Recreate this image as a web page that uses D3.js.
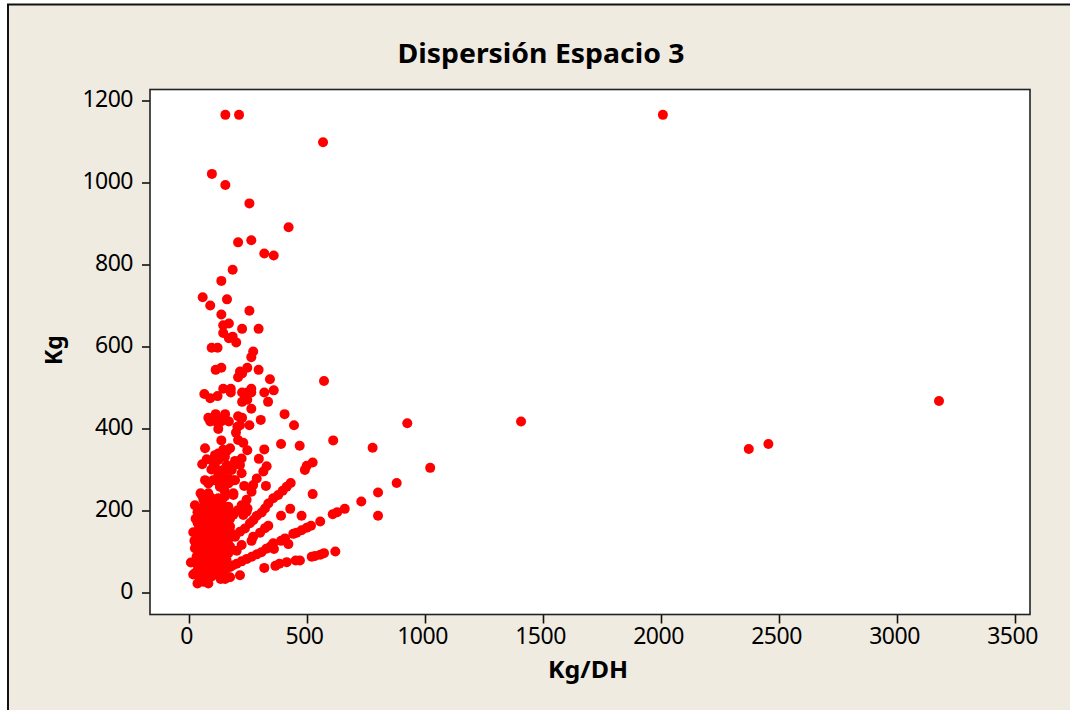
<!DOCTYPE html>
<html><head><meta charset="utf-8">
<script src="https://cdn.jsdelivr.net/npm/d3@7"></script>
<style>html,body{margin:0;padding:0;background:#fff}svg{display:block}text{fill:#000}</style>
</head><body><svg id="c" width="1070" height="710"></svg>
<script>
const chartTitle = "Dispersión Espacio 3";
const xLabel = "Kg/DH";
const yLabel = "Kg";
const xTicks = [0,500,1000,1500,2000,2500,3000,3500];
const yTicks = [0,200,400,600,800,1000,1200];
// [Kg/DH, Kg]
const outlierPoints = [[2008,1165],[3178,467],[2455,362],[2372,350],[1407,417],[1022,304],[925,413],[880,267],[801,244],[801,187],[778,353],[730,222],[660,204],[628,196],[609,191],[620,100],[611,371],[572,516],[568,1098]];
const upperPoints = [[154,1165],[212,1165],[97,1021],[154,994],[256,949],[422,891],[208,854],[264,859],[319,827],[359,822],[185,787],[137,760],[58,720],[161,715],[90,700],[137,678],[256,687],[145,652],[169,656],[225,643],[295,643],[145,633],[169,620],[185,624],[200,610],[96,597],[121,597],[272,588],[264,574],[137,548],[113,543],[216,539],[247,548],[295,543],[225,534],[208,525],[343,520],[145,497],[177,497],[177,488],[65,484],[90,474],[121,479],[225,488],[247,488],[264,497],[264,488],[319,488],[359,493],[225,465],[247,470],[335,465],[264,448],[82,426],[113,435],[153,435],[90,417],[124,424],[169,417],[208,430],[225,426],[304,421],[405,435],[445,408],[124,399],[114,417],[136,417],[216,408],[256,408],[205,404],[199,390]];
const midPoints = [[137,371],[208,372],[230,365],[247,347],[319,349],[390,362],[469,358],[524,317],[499,309],[491,299],[524,240],[429,204],[390,187],[477,187],[296,326],[68,352],[75,325],[56,313],[124,339],[145,348],[174,352],[124,323],[110,307],[152,331],[195,321],[223,327],[216,311],[223,291],[152,299],[181,299],[68,274],[110,274],[138,282],[188,274],[167,266],[131,258],[152,246],[234,260],[49,242],[82,242],[188,242],[25,213],[61,226],[110,226],[138,221],[89,213],[167,209],[110,335],[160,345],[100,320],[95,300],[82,266],[103,274],[124,290],[145,299],[160,311],[181,303],[195,274],[131,262],[145,254],[167,278],[152,274],[54,238],[75,238],[96,230],[124,230],[152,234],[188,238]];
const rayPoints = [[431,267],[414,258],[397,248],[378,238],[357,230],[336,217],[322,205],[308,195],[287,187],[273,177],[258,169],[237,156],[216,148],[195,136],[329,308],[315,295],[287,278],[272,262],[265,246],[244,226],[223,213],[205,200],[188,190],[174,180],[326,260],[248,205],[244,197],[230,189],[336,163],[322,157],[301,146],[272,136],[265,126],[223,116],[202,102],[556,173],[517,163],[499,158],[477,152],[456,146],[442,143],[421,118],[407,132],[390,126],[357,120],[360,106],[345,112],[328,107],[307,98],[287,93],[266,87],[245,82],[223,76],[202,70],[185,66],[174,62],[572,96],[556,92],[534,89],[520,87],[470,78],[452,78],[414,74],[383,70],[366,65],[319,60],[216,42],[174,37],[153,33],[134,33]];
const clusterPoints = [[8,73],[18,44],[25,47],[36,22],[82,22],[46,35],[60,39],[96,39],[75,47],[18,147],[23,126],[37,169],[25,108],[32,87],[39,70],[53,55],[68,62],[89,55],[110,47],[124,47],[138,55],[152,47],[39,104],[53,87],[68,79],[89,71],[110,63],[131,71],[152,71],[46,128],[60,112],[75,95],[96,87],[117,79],[138,87],[159,79],[53,152],[68,136],[82,120],[103,104],[124,95],[145,104],[166,95],[60,169],[75,161],[89,144],[110,128],[131,112],[152,120],[174,112],[68,185],[82,177],[103,161],[124,144],[145,136],[166,128],[89,201],[103,193],[117,177],[138,161],[159,152],[181,144],[96,177],[117,209],[138,193],[152,177],[174,161],[46,144],[32,128],[39,152],[60,95],[46,79],[60,63],[82,104],[103,79],[117,63],[131,95],[110,112],[96,136],[75,112],[53,120],[89,161],[103,144],[124,161],[124,120],[145,120],[159,136],[75,201],[47,205],[131,177],[145,169]];
const coreFillPoints = [[44,96],[50,70],[56,46],[66,52],[78,38],[86,66],[94,50],[102,58],[112,78],[120,102],[128,84],[136,74],[144,62],[148,88],[70,128],[62,140],[72,152],[84,132],[92,118],[100,124],[108,146],[116,136],[126,130],[134,150],[142,148],[150,142],[156,166],[164,178],[172,196],[84,190],[54,190],[62,204],[104,214],[118,196],[128,206],[146,200],[160,205],[36,196],[28,180],[30,72],[38,58],[44,44],[52,30],[62,26]];
const allPoints = [...outlierPoints, ...upperPoints, ...midPoints, ...rayPoints, ...clusterPoints, ...coreFillPoints];

const svg = d3.select("#c");
const m = {left:150, top:89.5, right:1030, bottom:614.5};
const bg = "#efebe1";
svg.append("rect").attr("x",8).attr("y",4.5).attr("width",1100).attr("height",760).attr("fill",bg).attr("stroke","#111").attr("stroke-width",2);
svg.append("rect").attr("x",m.left).attr("y",m.top).attr("width",m.right-m.left).attr("height",m.bottom-m.top).attr("fill","#fff");

const x = d3.scaleLinear().domain([0,3500]).range([189,1015]);
const y = d3.scaleLinear().domain([0,1200]).range([592.5,100.5]);
const font = "'Noto Sans', sans-serif";

const xAxis = svg.append("g").attr("transform",`translate(0,${m.bottom})`).call(d3.axisBottom(x).tickValues(xTicks).tickFormat(d3.format("d")).tickSize(9).tickPadding(4));
const yAxis = svg.append("g").attr("transform",`translate(${m.left},0)`).call(d3.axisLeft(y).tickValues(yTicks).tickFormat(d3.format("d")).tickSize(8).tickPadding(9));
for (const a of [xAxis,yAxis]) {
  a.select(".domain").remove();
  a.selectAll("line").attr("stroke","#111").attr("stroke-width",1.6);
  a.selectAll("text").attr("font-family",font).attr("font-size",23).attr("letter-spacing","-0.5").attr("fill","#000");
}
xAxis.selectAll("text").attr("dx",-3);
yAxis.selectAll("text").attr("dy","0.28em");
svg.append("g").selectAll("circle").data(allPoints).join("circle")
  .attr("cx",d=>x(d[0])).attr("cy",d=>y(d[1])).attr("r",5).attr("fill","#ff0000");
svg.append("rect").attr("x",m.left).attr("y",m.top).attr("width",m.right-m.left).attr("height",m.bottom-m.top).attr("fill","none").attr("stroke","#222").attr("stroke-width",1.6);

svg.append("text").attr("x",541).attr("y",63).attr("text-anchor","middle").attr("font-family",font).attr("font-weight","bold").attr("font-size",27.5).attr("textLength",287).attr("lengthAdjust","spacingAndGlyphs").text(chartTitle);
svg.append("text").attr("x",588).attr("y",678).attr("text-anchor","middle").attr("font-family",font).attr("font-weight","bold").attr("font-size",23).attr("textLength",80).attr("lengthAdjust","spacingAndGlyphs").text(xLabel);
svg.append("text").attr("transform","translate(62,350) rotate(-90)").attr("text-anchor","middle").attr("font-family",font).attr("font-weight","bold").attr("font-size",23).text(yLabel);
</script></body></html>
